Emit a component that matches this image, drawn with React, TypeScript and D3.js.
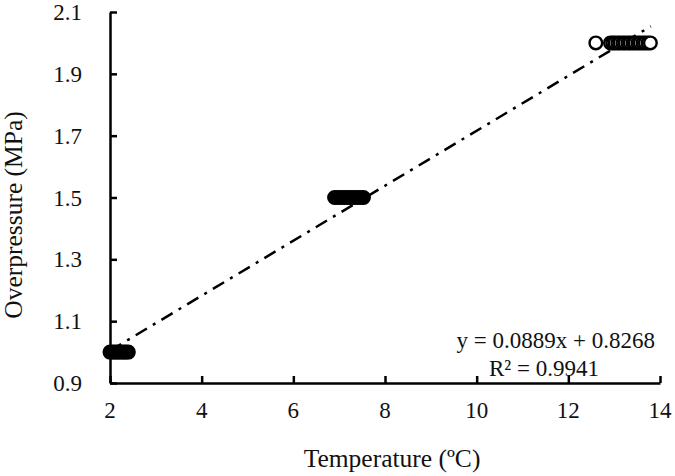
import React, { useEffect, useRef } from "react";
import * as d3 from "d3";

const lowTemps = [2.0, 2.05, 2.1, 2.15, 2.2, 2.25, 2.3, 2.35, 2.4];
const lowPressure = 1.0;
const midTemps = [6.9, 6.97, 7.04, 7.11, 7.18, 7.25, 7.32, 7.39, 7.46, 7.53];
const midPressure = 1.5;
const highTemps = [
  12.6, 12.92, 12.97, 13.02, 13.08, 13.13, 13.19, 13.24, 13.3, 13.35, 13.41, 13.46, 13.52, 13.57, 13.63, 13.68, 13.74,
  13.79,
];
const highPressure = 2.0;

const xTicks = [2, 4, 6, 8, 10, 12, 14];
const yTicks = [0.9, 1.1, 1.3, 1.5, 1.7, 1.9, 2.1];

const slope = 0.0889;
const intercept = 0.8268;
const rSquared = 0.9941;
const fitRange = [2.0, 13.8];

const App = () => {
  const ref = useRef<SVGSVGElement>(null);

  useEffect(() => {
    draw();
  });

  const draw = () => {
    const svg = d3.select(ref.current);
    svg.selectAll("*").remove();

    const width = 675;
    const height = 476;
    const margin = { top: 12, right: 15, bottom: 93, left: 110 };

    const x = d3.scaleLinear().domain([2, 14]).range([margin.left, width - margin.right]);
    const y = d3.scaleLinear().domain([0.9, 2.1]).range([height - margin.bottom, margin.top]);

    const font = "'Liberation Serif', 'Times New Roman', serif";
    const ink = "#111";

    // fitted trend line, dash-dot
    svg
      .append("path")
      .datum(fitRange)
      .attr("fill", "none")
      .attr("stroke", "#000")
      .attr("stroke-width", 2.5)
      .attr("stroke-dasharray", "13 7 3 7")
      .attr(
        "d",
        d3
          .line<number>()
          .x((d) => x(d))
          .y((d) => y(slope * d + intercept))
      );

    const clusters = [
      { temps: lowTemps, p: lowPressure, fill: "#000" },
      { temps: midTemps, p: midPressure, fill: "#000" },
      { temps: highTemps, p: highPressure, fill: "#fff" },
    ];

    clusters.forEach((c) => {
      svg
        .append("g")
        .selectAll("circle")
        .data(c.temps)
        .join("circle")
        .attr("cx", (d) => x(d))
        .attr("cy", y(c.p))
        .attr("r", 6.3)
        .attr("fill", c.fill)
        .attr("stroke", "#000")
        .attr("stroke-width", 2.4);
    });

    const xAxis = svg
      .append("g")
      .attr("transform", `translate(0, ${height - margin.bottom})`)
      .call(d3.axisBottom(x).tickValues(xTicks).tickSizeInner(-7).tickSizeOuter(0).tickFormat(() => ""));

    const yAxis = svg
      .append("g")
      .attr("transform", `translate(${margin.left}, 0)`)
      .call(d3.axisLeft(y).tickValues(yTicks).tickSizeInner(-7).tickSizeOuter(0).tickFormat(() => ""));

    [xAxis, yAxis].forEach((a) => {
      a.select(".domain").attr("stroke-width", 2.5);
      a.selectAll(".tick line").attr("stroke-width", 2.5);
    });

    svg
      .append("g")
      .selectAll("text")
      .data(xTicks)
      .join("text")
      .attr("x", (d) => x(d))
      .attr("y", 418)
      .attr("text-anchor", "middle")
      .attr("font-family", font)
      .attr("font-size", 23)
      .attr("fill", ink)
      .text((d) => d);

    svg
      .append("g")
      .selectAll("text")
      .data(yTicks)
      .join("text")
      .attr("x", 82)
      .attr("y", (d) => y(d))
      .attr("dy", "0.35em")
      .attr("text-anchor", "end")
      .attr("font-family", font)
      .attr("font-size", 23)
      .attr("fill", ink)
      .text((d) => d3.format(".1f")(d));

    svg
      .append("text")
      .attr("x", 392)
      .attr("y", 467)
      .attr("text-anchor", "middle")
      .attr("font-family", font)
      .attr("font-size", 25.5)
      .attr("fill", ink)
      .text("Temperature (ºC)");

    svg
      .append("text")
      .attr("transform", "translate(22, 215) rotate(-90)")
      .attr("text-anchor", "middle")
      .attr("font-family", font)
      .attr("font-size", 25.5)
      .attr("fill", ink)
      .text("Overpressure (MPa)");

    svg
      .append("text")
      .attr("x", 655)
      .attr("y", 348)
      .attr("text-anchor", "end")
      .attr("font-family", font)
      .attr("font-size", 23)
      .attr("fill", ink)
      .text(`y = ${slope}x + ${intercept}`);

    svg
      .append("text")
      .attr("x", 544)
      .attr("y", 376)
      .attr("text-anchor", "middle")
      .attr("font-family", font)
      .attr("font-size", 23)
      .attr("fill", ink)
      .text(`R² = ${rSquared}`);
  };

  return (
    <svg
      ref={ref}
      width={675}
      height={476}
      style={{ position: "fixed", top: 0, left: 0, background: "#fff" }}
    />
  );
};

export default App;
